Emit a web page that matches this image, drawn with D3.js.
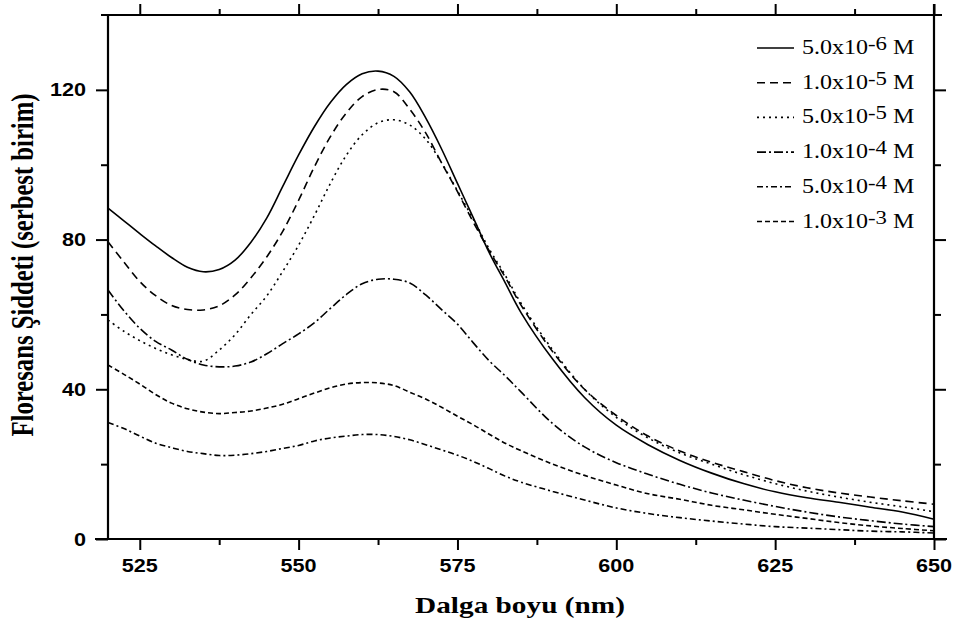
<!DOCTYPE html>
<html>
<head>
<meta charset="utf-8">
<script src="https://cdn.jsdelivr.net/npm/d3@7/dist/d3.min.js"></script>
<style>
  html, body { margin: 0; padding: 0; background: #fff; }
  svg { display: block; }
</style>
</head>
<body>
<svg id="chart" width="956" height="622"></svg>
<script>
// Wavelengths (nm) at which the emission spectra are sampled
const wavelengths = [520, 522.5, 525, 527.5, 530, 532.5, 535, 537.5, 540, 542.5, 545, 547.5,
  550, 552.5, 555, 557.5, 560, 562.5, 565, 567.5, 570, 572.5, 575, 577.5, 580, 582.5, 585,
  590, 595, 600, 605, 610, 615, 620, 625, 630, 635, 640, 645, 650];

// Fluorescence intensity (arbitrary units) for each concentration
const conc5e6 = [88.4, 85.0, 81.6, 78.3, 75.2, 72.6, 71.4, 72.0, 74.5, 79.3, 85.8, 94.2,
  102.6, 110.2, 116.6, 121.4, 124.3, 125.0, 123.6, 119.4, 112.5, 104.2, 95.0, 85.8, 76.5, 68.5, 60.5,
  48.0, 37.8, 30.4, 25.2, 21.0, 17.6, 14.8, 12.6, 11.0, 9.8, 8.5, 7.2, 5.3];
const conc1e5 = [79.4, 74.0, 68.8, 65.0, 62.4, 61.3, 61.2, 62.3, 65.2, 69.8, 75.4, 82.2,
  90.5, 99.5, 107.5, 113.8, 118.2, 120.1, 119.5, 114.8, 108.5, 100.5, 92.8, 84.6, 77.0, 70.0, 62.5,
  50.0, 40.0, 33.0, 27.5, 23.5, 20.5, 18.0, 15.6, 13.7, 12.3, 11.2, 10.2, 9.3];
const conc5e5 = [58.5, 55.5, 53.0, 50.9, 49.2, 48.0, 47.5, 50.5, 54.6, 60.0, 65.0, 71.5,
  78.5, 86.5, 95.0, 102.5, 108.0, 111.2, 112.0, 110.6, 106.8, 100.5, 93.0, 85.4, 77.5, 70.5, 63.0,
  50.5, 40.0, 32.5, 27.0, 23.0, 20.0, 17.2, 14.8, 12.8, 11.2, 9.8, 8.6, 7.3];
const conc1e4 = [66.5, 61.0, 56.3, 52.8, 50.5, 48.0, 46.5, 46.0, 46.2, 47.3, 49.5, 52.2,
  54.8, 57.8, 61.6, 65.3, 68.2, 69.4, 69.4, 68.4, 65.2, 61.3, 57.4, 52.4, 47.6, 43.6, 39.3,
  30.8, 24.6, 20.4, 17.3, 14.6, 12.3, 10.4, 8.7, 7.2, 5.9, 4.9, 4.0, 3.3];
const conc5e4 = [31.1, 29.5, 27.5, 25.6, 24.4, 23.4, 22.8, 22.3, 22.4, 22.8, 23.4, 24.2,
  25.0, 26.2, 27.0, 27.5, 27.9, 27.9, 27.4, 26.5, 25.2, 23.8, 22.4, 20.7, 18.8, 16.8, 15.2,
  12.7, 10.4, 8.3, 6.8, 5.7, 4.8, 4.0, 3.3, 2.9, 2.5, 2.1, 1.9, 1.6];
const conc1e3 = [46.5, 44.0, 41.4, 38.6, 36.3, 34.8, 33.9, 33.5, 33.8, 34.2, 35.0, 36.0,
  37.5, 39.0, 40.4, 41.4, 41.8, 41.7, 41.0, 39.2, 37.4, 35.2, 32.8, 30.5, 28.0, 25.6, 23.6,
  20.0, 17.0, 14.4, 12.1, 10.6, 9.0, 7.8, 6.6, 5.5, 4.4, 3.5, 2.8, 2.2];

// Legend labels: mantissa, exponent, unit
const legendMantissa = ["5.0x10", "1.0x10", "5.0x10", "1.0x10", "5.0x10", "1.0x10"];
const legendExponent = ["-6", "-5", "-5", "-4", "-4", "-3"];
const legendUnit = " M";

// Axis ticks
const xMajorTicks = [525, 550, 575, 600, 625, 650];
const xMinorTicks = [537.5, 562.5, 587.5, 612.5, 637.5];
const yMajorTicks = [0, 40, 80, 120];
const yMinorTicks = [20, 60, 100];

const xTitle = "Dalga boyu (nm)";
const yTitle = "Floresans Şiddeti (serbest birim)";

const seriesValues = [conc5e6, conc1e5, conc5e5, conc1e4, conc5e4, conc1e3];
const dashStyles = [null, "8,5", "2,4", "9,3,2,3", "6,3,2,3", "5,3"];

const svg = d3.select("#chart");
const plot = { left: 108, right: 934, top: 15, bottom: 539 };

const x = d3.scaleLinear().domain([520, 650]).range([plot.left, plot.right]);
const y = d3.scaleLinear().domain([0, 140]).range([plot.bottom, plot.top]);

const sans = "'Liberation Sans', Arial, sans-serif";
const serif = "'Liberation Serif', 'Times New Roman', serif";
const wide = 1.2; // horizontal stretch of all lettering

// Ticks drawn by d3 axes; labels placed separately so they can be widened
function styleAxis(g) {
  g.select(".domain").remove();
  g.selectAll(".tick line").attr("stroke", "#000").attr("stroke-width", 2);
  g.selectAll(".tick text").remove();
}
function addAxis(axis, tx, ty) {
  svg.append("g").attr("transform", `translate(${tx},${ty})`).call(axis).call(styleAxis);
}
addAxis(d3.axisBottom(x).tickValues(xMajorTicks).tickSize(11), 0, plot.bottom);
addAxis(d3.axisBottom(x).tickValues(xMinorTicks).tickSize(6), 0, plot.bottom);
addAxis(d3.axisTop(x).tickValues(xMajorTicks).tickSize(11), 0, plot.top);
addAxis(d3.axisTop(x).tickValues(xMinorTicks).tickSize(6), 0, plot.top);
addAxis(d3.axisLeft(y).tickValues(yMajorTicks).tickSize(12), plot.left, 0);
addAxis(d3.axisLeft(y).tickValues(yMinorTicks).tickSize(7), plot.left, 0);
addAxis(d3.axisRight(y).tickValues(yMajorTicks).tickSize(12), plot.right, 0);
addAxis(d3.axisRight(y).tickValues(yMinorTicks).tickSize(7), plot.right, 0);

// Tick labels
svg.append("g").selectAll("text")
  .data(xMajorTicks)
  .join("text")
  .attr("transform", d => `translate(${x(d)},572) scale(${wide},1)`)
  .attr("text-anchor", "middle")
  .style("font-family", sans).style("font-weight", "bold").style("font-size", "18px")
  .text(d => d);
svg.append("g").selectAll("text")
  .data(yMajorTicks)
  .join("text")
  .attr("transform", d => `translate(86,${y(d) + 6.5}) scale(${wide},1)`)
  .attr("text-anchor", "end")
  .style("font-family", sans).style("font-weight", "bold").style("font-size", "18px")
  .text(d => d);

// Frame: horizontal axis lines run a little past the vertical ones
const frame = svg.append("g").attr("stroke", "#000").attr("stroke-width", 2.2);
frame.append("line").attr("x1", plot.left - 13).attr("x2", plot.right + 13)
  .attr("y1", plot.bottom).attr("y2", plot.bottom);
frame.append("line").attr("x1", plot.left - 7).attr("x2", plot.right + 8)
  .attr("y1", plot.top).attr("y2", plot.top);
frame.append("line").attr("x1", plot.left).attr("x2", plot.left)
  .attr("y1", plot.top).attr("y2", plot.bottom);
frame.append("line").attr("x1", plot.right).attr("x2", plot.right)
  .attr("y1", plot.top - 11).attr("y2", plot.bottom);

// Spectra
const line = d3.line()
  .x((d, i) => x(wavelengths[i]))
  .y(d => y(d))
  .curve(d3.curveCatmullRom.alpha(0.5));

svg.append("g").selectAll("path")
  .data(seriesValues)
  .join("path")
  .attr("d", d => line(d))
  .attr("fill", "none")
  .attr("stroke", "#000")
  .attr("stroke-width", 1.6)
  .attr("stroke-dasharray", (d, i) => dashStyles[i]);

// Legend
const legend = svg.append("g");
const rowY = i => 54 + i * 34.7;
legend.selectAll("line")
  .data(legendMantissa)
  .join("line")
  .attr("x1", 757).attr("x2", 794)
  .attr("y1", (d, i) => rowY(i) - 6).attr("y2", (d, i) => rowY(i) - 6)
  .attr("stroke", "#000").attr("stroke-width", 1.6)
  .attr("stroke-dasharray", (d, i) => dashStyles[i]);

const legendText = legend.selectAll("text")
  .data(legendMantissa)
  .join("text")
  .attr("transform", (d, i) => `translate(802,${rowY(i)}) scale(${wide},1)`)
  .style("font-family", serif)
  .style("font-size", "20px")
  .attr("fill", "#000");
legendText.append("tspan").text(d => d);
legendText.append("tspan").attr("dy", -4).style("font-size", "19px")
  .text((d, i) => legendExponent[i]);
legendText.append("tspan").attr("dy", 4).text(legendUnit);

// Axis titles
svg.append("text")
  .attr("transform", `translate(520,613) scale(1.22,1)`)
  .attr("text-anchor", "middle")
  .style("font-family", serif).style("font-weight", "bold")
  .style("font-size", "24px")
  .text(xTitle);

svg.append("text")
  .attr("transform", `translate(33,265) scale(1.3,1) rotate(-90)`)
  .attr("text-anchor", "middle")
  .style("font-family", serif).style("font-weight", "bold")
  .style("font-size", "24.7px")
  .text(yTitle);
</script>
</body>
</html>
